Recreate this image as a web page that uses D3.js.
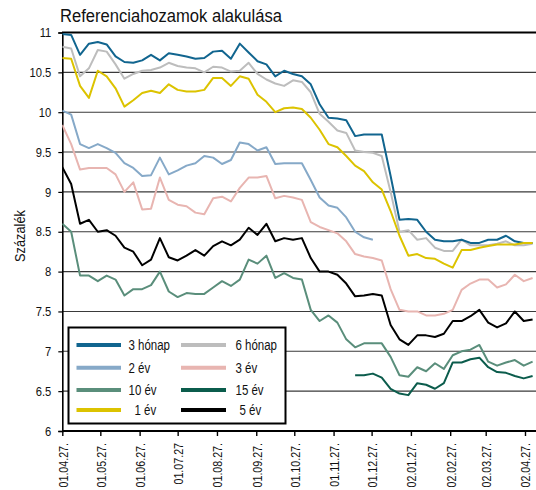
<!DOCTYPE html>
<html><head><meta charset="utf-8">
<script src="https://cdn.jsdelivr.net/npm/d3@7"></script>
<style>
html,body{margin:0;padding:0;background:#fff;}
svg{display:block;}
text{font-family:"Liberation Sans",Arial,sans-serif;fill:#111;}
</style></head>
<body>
<svg id="chart" width="536" height="490"></svg>
<script>
// ---- data ----
const title = "Referenciahozamok alakulása";
const yAxisTitle = "Százalék";
const startDate = "2001-04-27";      // first weekly observation
const weeks = 54;                    // number of weekly observations
const tickDates = ["2001-04-27","2001-05-27","2001-06-27","2001-07-27","2001-08-27","2001-09-27","2001-10-27","2001-11-27","2001-12-27","2002-01-27","2002-02-27","2002-03-27","2002-04-27"];
const tickLabels = ["01.04.27.","01.05.27.","01.06.27.","01.07.27","01.08.27.","01.09.27.","01.10.27.","01.11.27.","01.12.27.","02.01.27.","02.02.27.","02.03.27.","02.04.27."];
const yTicks = [6, 6.5, 7, 7.5, 8, 8.5, 9, 9.5, 10, 10.5, 11];
const yTickLabels = ["6","6.5","7","7.5","8","8.5","9","9.5","10","10.5","11"];

const m3 = [10.98,10.97,10.72,10.86,10.88,10.85,10.70,10.63,10.62,10.65,10.72,10.65,10.74,10.72,10.70,10.67,10.68,10.76,10.77,10.67,10.86,10.75,10.64,10.60,10.45,10.52,10.48,10.45,10.35,10.10,9.93,9.92,9.90,9.70,9.72,9.72,9.72,9.20,8.65,8.66,8.65,8.50,8.40,8.38,8.38,8.40,8.36,8.36,8.40,8.40,8.45,8.38,8.36,8.36];
const m6 = [10.82,10.80,10.45,10.55,10.78,10.76,10.60,10.42,10.48,10.52,10.53,10.56,10.62,10.58,10.56,10.55,10.50,10.57,10.56,10.51,10.52,10.62,10.48,10.41,10.36,10.33,10.40,10.38,10.25,9.98,9.88,9.77,9.74,9.52,9.50,9.49,9.45,9.00,8.50,8.52,8.40,8.42,8.30,8.26,8.26,8.40,8.33,8.33,8.33,8.35,8.38,8.33,8.33,8.35];
const y1 = [10.68,10.67,10.33,10.18,10.52,10.45,10.30,10.07,10.15,10.24,10.27,10.24,10.35,10.28,10.26,10.26,10.28,10.43,10.43,10.33,10.45,10.42,10.22,10.13,10.00,10.05,10.06,10.04,9.93,9.78,9.60,9.56,9.45,9.33,9.26,9.12,9.03,8.76,8.45,8.20,8.22,8.17,8.16,8.10,8.05,8.27,8.27,8.30,8.32,8.34,8.34,8.34,8.36,8.36];
const y2 = [10.02,9.97,9.60,9.55,9.60,9.55,9.49,9.36,9.30,9.20,9.21,9.43,9.22,9.27,9.33,9.36,9.45,9.43,9.35,9.40,9.62,9.60,9.52,9.56,9.35,9.36,9.36,9.36,9.15,8.93,8.83,8.80,8.68,8.50,8.43,8.40,null,null,null,null,null,null,null,null,null,null,null,null,null,null,null,null,null,null];
const y3 = [9.84,9.60,9.28,9.30,9.30,9.30,9.22,9.00,9.12,8.78,8.79,9.18,8.90,8.84,8.82,8.74,8.72,8.92,8.94,8.88,9.05,9.18,9.18,9.20,8.92,8.95,8.93,8.90,8.62,8.56,8.52,8.48,8.38,8.22,8.19,8.17,8.14,7.78,7.52,7.50,7.50,7.45,7.45,7.47,7.52,7.77,7.85,7.90,7.90,7.80,7.84,7.96,7.88,7.92];
const y5 = [9.31,9.10,8.60,8.65,8.50,8.52,8.45,8.30,8.25,8.08,8.15,8.42,8.18,8.14,8.20,8.27,8.20,8.32,8.38,8.33,8.40,8.55,8.46,8.60,8.38,8.42,8.40,8.42,8.17,8.00,8.00,7.96,7.85,7.69,7.70,7.72,7.70,7.33,7.15,7.08,7.20,7.20,7.18,7.22,7.38,7.38,7.44,7.52,7.36,7.30,7.35,7.50,7.38,7.40];
const y10 = [8.60,8.50,7.95,7.95,7.88,7.95,7.90,7.70,7.78,7.78,7.83,8.00,7.75,7.68,7.73,7.72,7.72,7.80,7.88,7.82,7.90,8.15,8.10,8.20,7.92,7.98,7.92,7.90,7.52,7.38,7.45,7.36,7.15,7.05,7.10,7.10,7.10,6.93,6.70,6.68,6.80,6.75,6.85,6.78,6.95,7.00,7.02,7.08,6.87,6.82,6.86,6.89,6.82,6.87];
const y15 = [null,null,null,null,null,null,null,null,null,null,null,null,null,null,null,null,null,null,null,null,null,null,null,null,null,null,null,null,null,null,null,null,null,6.70,6.70,6.72,6.67,6.53,6.47,6.45,6.60,6.58,6.53,6.60,6.86,6.86,6.90,6.92,6.80,6.74,6.73,6.69,6.66,6.69];

const seriesNames = ["3 hónap","6 hónap","2 év","3 év","10 év","15 év","1 év","5 év"];
const seriesColors = ["#11658f","#bdbdbd","#86a9c8","#e8b5b1","#5a8e7b","#0b5c4c","#dcc300","#000000"];
const seriesValues = [m3, m6, y2, y3, y10, y15, y1, y5];
const drawOrder = [3, 2, 1, 0, 6, 4, 5, 7]; // indices into series (back to front)

// ---- chart ----
const svg = d3.select("#chart");
const parse = d3.timeParse("%Y-%m-%d");
const t0 = parse(startDate);
const dates = d3.range(weeks).map(k => d3.timeDay.offset(t0, 7 * k));

// narrow the regular sans horizontally to mimic the condensed face
function condense(sel, f) {
  sel.each(function () {
    const w = this.getComputedTextLength();
    d3.select(this).attr("textLength", w * f).attr("lengthAdjust", "spacingAndGlyphs");
  });
}

const x = d3.scaleTime().domain([parse("2001-04-27"), parse("2002-05-06")]).range([62.3, 536.4]);
const y = d3.scaleLinear().domain([6, 11]).range([431, 32.5]);

// title
const tt = svg.append("text").attr("x", 60).attr("y", 22).attr("font-size", 17.5).text(title);
tt.attr("textLength", 222).attr("lengthAdjust", "spacingAndGlyphs");

// grid lines
svg.append("g").selectAll("line").data(yTicks.filter(v => v > 6)).join("line")
  .attr("x1", 62).attr("x2", 536).attr("y1", d => y(d)).attr("y2", d => y(d))
  .attr("stroke", d => d === 11 ? "#000" : "#3a3a3a").attr("stroke-width", d => d === 11 ? 2 : 1.1);

// y axis
const yAxis = d3.axisLeft(y).tickValues(yTicks).tickSize(4).tickFormat((d, i) => yTickLabels[i]);
const gy = svg.append("g").attr("transform", "translate(62.3,0)").call(yAxis);
gy.select(".domain").attr("stroke", "#000").attr("stroke-width", 1.6);
gy.selectAll(".tick line").attr("stroke", "#000").attr("stroke-width", 1.2);
gy.selectAll(".tick text").attr("font-size", 13).attr("x", -11).attr("fill", "#111")
  .style("font-family", '"Liberation Sans",Arial,sans-serif');
condense(gy.selectAll(".tick text"), 0.86);

// y title
const yt = svg.append("text").attr("transform", "translate(25,236) rotate(-90)").attr("text-anchor", "middle")
  .attr("font-size", 14.5).text(yAxisTitle);
condense(yt, 0.88);

// lines
svg.append("clipPath").attr("id", "plotclip").append("rect")
  .attr("x", 62.3).attr("y", 28).attr("width", 475).attr("height", 403);
const line = d3.line().defined(d => d.v != null).x(d => x(d.t)).y(d => y(d.v));
const gl = svg.append("g").attr("clip-path", "url(#plotclip)");
drawOrder.forEach(i => {
  const pts = dates.map((t, k) => ({t: t, v: seriesValues[i][k]}));
  gl.append("path").datum(pts).attr("d", line).attr("fill", "none")
    .attr("stroke", seriesColors[i]).attr("stroke-width", 2).attr("stroke-linejoin", "round");
});

// x axis
const tDates = tickDates.map(parse);
const xAxis = d3.axisBottom(x).tickValues(tDates).tickSize(5).tickFormat((d, i) => tickLabels[i]);
const gx = svg.append("g").attr("transform", "translate(0,431)").call(xAxis);
gx.select(".domain").attr("stroke", "#000").attr("stroke-width", 2.2).attr("d", "M62.3,0H536");
gx.selectAll(".tick line").attr("stroke", "#000").attr("stroke-width", 1.4);
gx.selectAll(".tick text").attr("font-size", 13.5).attr("text-anchor", "end").attr("fill", "#111")
  .style("font-family", '"Liberation Sans",Arial,sans-serif')
  .attr("transform", "translate(5,12) rotate(-90)").attr("x", 0).attr("y", 0).attr("dy", 0);
condense(gx.selectAll(".tick text"), 0.79);

// legend
const lg = svg.append("g");
lg.append("rect").attr("x", 68.5).attr("y", 327.5).attr("width", 217).attr("height", 96)
  .attr("fill", "#fff").attr("stroke", "#000").attr("stroke-width", 2);
const rowsY = [345, 367.7, 390, 410];
const legendLayout = [
  {i: 0, col: 0, row: 0, tx: 128.5}, {i: 1, col: 1, row: 0, tx: 235.5},
  {i: 2, col: 0, row: 1, tx: 128.5}, {i: 3, col: 1, row: 1, tx: 235.5},
  {i: 4, col: 0, row: 2, tx: 128.5}, {i: 5, col: 1, row: 2, tx: 235.5},
  {i: 6, col: 0, row: 3, tx: 134.5}, {i: 7, col: 1, row: 3, tx: 239.5}
];
const swX = [[76.5, 121], [181, 226]];
legendLayout.forEach(e => {
  const yy = rowsY[e.row];
  lg.append("line").attr("x1", swX[e.col][0]).attr("x2", swX[e.col][1]).attr("y1", yy).attr("y2", yy)
    .attr("stroke", seriesColors[e.i]).attr("stroke-width", 4);
  const lt = lg.append("text").attr("x", e.tx).attr("y", yy + 5).attr("font-size", 14).text(seriesNames[e.i]);
  condense(lt, 0.82);
});
</script>
</body></html>
